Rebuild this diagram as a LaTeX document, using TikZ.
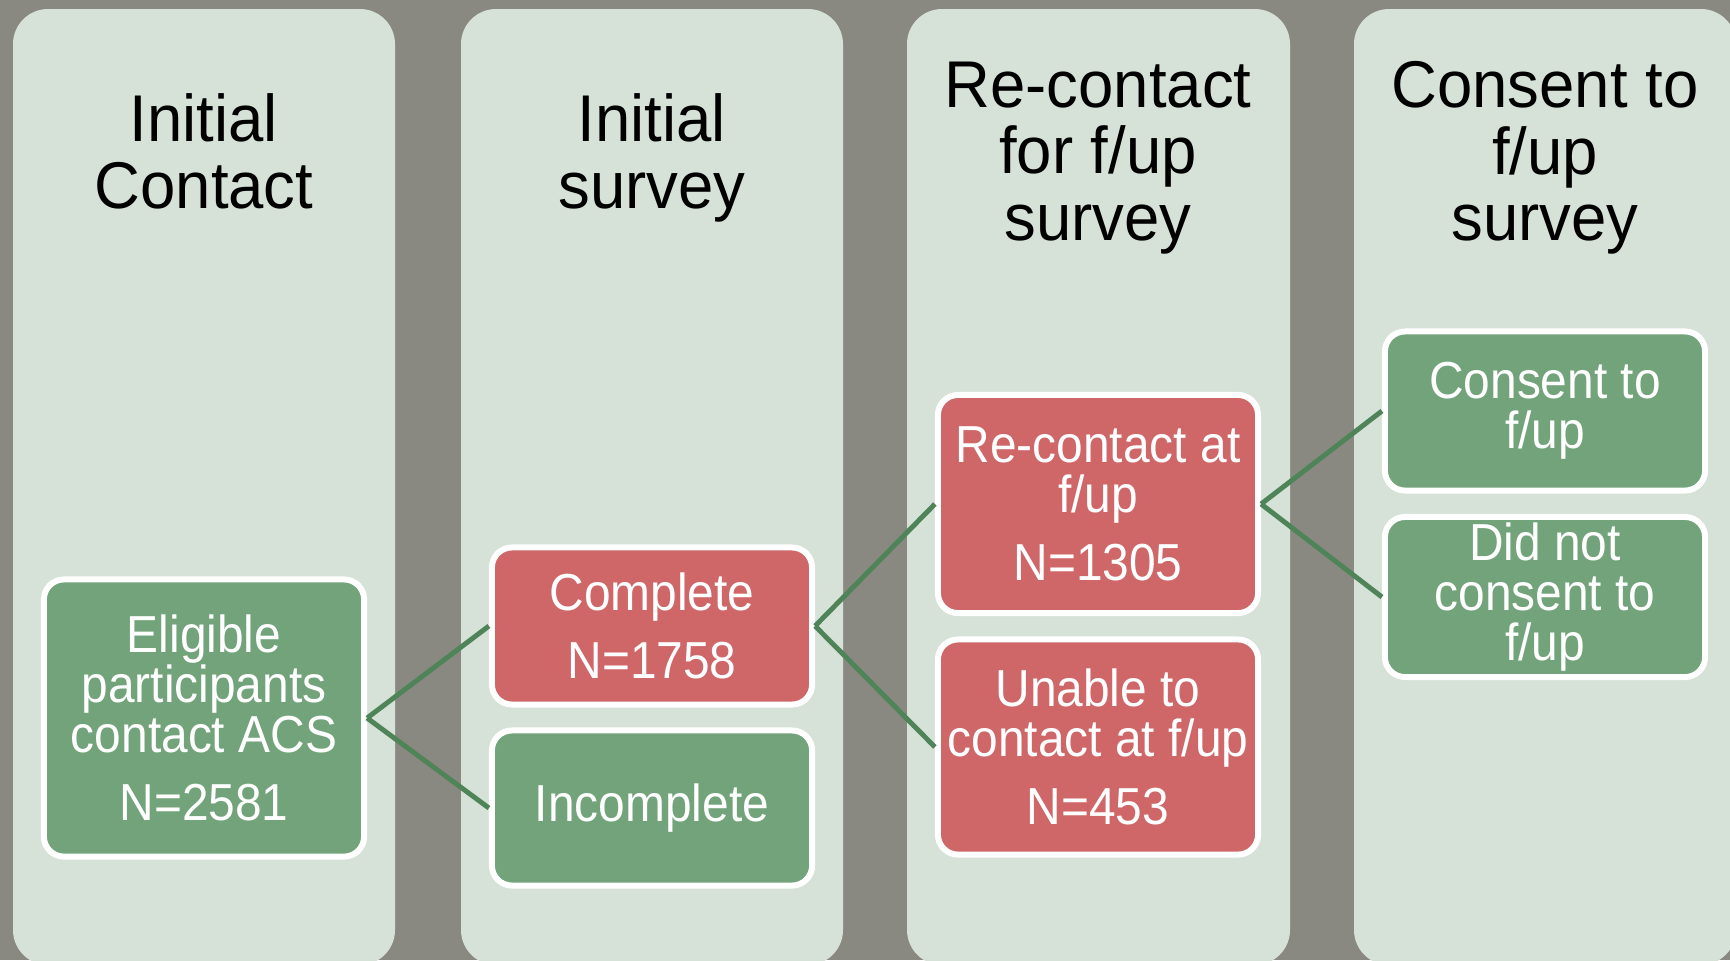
\documentclass[tikz,border=0pt]{standalone}
\usepackage{fontspec}
\setmainfont{Liberation Sans}
\newfontfamily\headfont{Liberation Sans}[FakeStretch=0.96]
\newfontfamily\boxfont{Liberation Sans}[FakeStretch=0.92]
\usepackage{xcolor}

\definecolor{bgGray}{HTML}{8A8981}
\definecolor{colGreen}{HTML}{D6E1D8}
\definecolor{boxGreen}{HTML}{72A37A}
\definecolor{boxRed}{HTML}{CF6769}
\definecolor{linkGreen}{HTML}{4F8459}

\tikzset{
  column/.style={fill=colGreen, rounded corners=0.35cm},
  head/.style={text=black, align=center, inner sep=0pt, text depth=0pt,
    font=\headfont\fontsize{18.8pt}{18.9pt}\selectfont},
  gbox/.style={draw=white, line width=1.7pt, fill=boxGreen, text=white,
    rounded corners=0.2cm, minimum width=3.2cm, align=center, inner sep=0pt,
    font=\boxfont\fontsize{14.8pt}{14.2pt}\selectfont},
  rbox/.style={gbox, fill=boxRed},
  link/.style={draw=linkGreen, line width=1.4pt}
}

\begin{document}
\begin{tikzpicture}[x=0.01cm, y=-0.01cm]

\useasboundingbox (0,0) rectangle (1730,960);
\clip (0,0) rectangle (1730,960);
\fill[bgGray] (0,0) rectangle (1730,960);

\fill[column] (13,9) rectangle (395,965);
\fill[column] (461,9) rectangle (843,965);
\fill[column] (907,9) rectangle (1290,965);
\fill[column] (1354,9) rectangle (1736,965);

\node[head] (T1) at (204,151) {Initial\\Contact};
\node[head] (T2) at (652,151) {Initial\\survey};
\node[head] (T3) at (1098,151) {Re-contact\\for f/up\\survey};
\node[head] (T4) at (1545,151) {Consent to\\f/up\\survey};

\node[gbox, minimum height=2.77cm] (C1) at (204,718) {Eligible\\participants\\contact ACS\\[5pt]N=2581};

\node[rbox, minimum height=1.57cm] (S1) at (652,626) {Complete\\[5pt]N=1758};
\node[gbox, minimum height=1.55cm] (S2) at (652,808) {Incomplete};

\node[rbox, minimum height=2.18cm] (R1) at (1098,504) {Re-contact at\\f/up\\[5pt]N=1305};
\node[rbox, minimum height=2.15cm] (R2) at (1098,747) {Unable to\\contact at f/up\\[5pt]N=453};

\node[gbox, minimum height=1.59cm] (F1) at (1545,411) {Consent to\\f/up};
\node[gbox, minimum height=1.60cm] (F2) at (1545,597) {Did not\\consent to\\f/up};

\draw[link] (C1.east) -- (S1.west);
\draw[link] (C1.east) -- (S2.west);
\draw[link] (S1.east) -- (R1.west);
\draw[link] (S1.east) -- (R2.west);
\draw[link] (R1.east) -- (F1.west);
\draw[link] (R1.east) -- (F2.west);
\end{tikzpicture}
\end{document}
